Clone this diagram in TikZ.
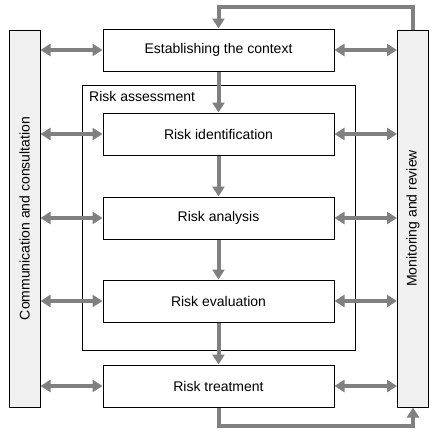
\documentclass[tikz,border=0pt]{standalone}
\usepackage{fontspec}
\setmainfont{Liberation Sans}
\usetikzlibrary{arrows.meta}
\begin{document}
\begin{tikzpicture}[x=1pt,y=-1pt,
  txt/.style={font=\fontsize{14}{16}\selectfont},
  box/.style={txt,draw=black,line width=1pt,fill=white,minimum width=231pt,minimum height=42pt,inner sep=0pt},
  bar/.style={draw=black,line width=1pt,fill=black!6,minimum width=31pt,minimum height=377pt,inner sep=0pt},
  garrow/.style={draw=black!50,line width=4pt,-{Triangle[width=12pt,length=10pt]}},
  darrow/.style={draw=black!50,line width=4pt,{Triangle[width=12pt,length=10pt]}-{Triangle[width=12pt,length=10pt]}}]
\useasboundingbox (0,0) rectangle (439,439);
\node[draw=black,line width=1pt,minimum width=273pt,minimum height=265pt,inner sep=0pt] (ra) at (218.5,217.5) {};
\node[txt,anchor=north west,inner sep=0pt] (ral) at (89,91) {Risk assessment};
\node[bar] (cc) at (24.5,218.5) {};
\node[txt,rotate=90] (cct) at (cc.center) {Communication and consultation};
\node[bar] (mr) at (413,218.5) {};
\node[txt,rotate=90] (mrt) at (mr.center) {Monitoring and review};
\node[box] (ec) at (218.5,50) {Establishing the context};
\node[box] (ri) at (218.5,134) {Risk identification};
\node[box] (an) at (218.5,218) {Risk analysis};
\node[box] (ev) at (218.5,301) {Risk evaluation};
\node[box] (rt) at (218.5,386) {Risk treatment};
\coordinate (t1) at (413,7);
\coordinate (t2) at (218.5,7);
\coordinate (b1) at (218.5,426);
\coordinate (b2) at (413,426);
\draw[garrow] (mr.north) -- (t1) -- (t2) -- (ec.north);
\draw[garrow] (ec.south) -- (ri.north);
\draw[garrow] (ri.south) -- (an.north);
\draw[garrow] (an.south) -- (ev.north);
\draw[garrow] (ev.south) -- (rt.north);
\draw[garrow] (rt.south) -- (b1) -- (b2) -- (mr.south);
\foreach \n in {ec,ri,an,ev,rt}{
  \draw[darrow] (cc.east |- \n.west) -- (\n.west);
  \draw[darrow] (\n.east) -- (mr.west |- \n.east);
}
\end{tikzpicture}
\end{document}
